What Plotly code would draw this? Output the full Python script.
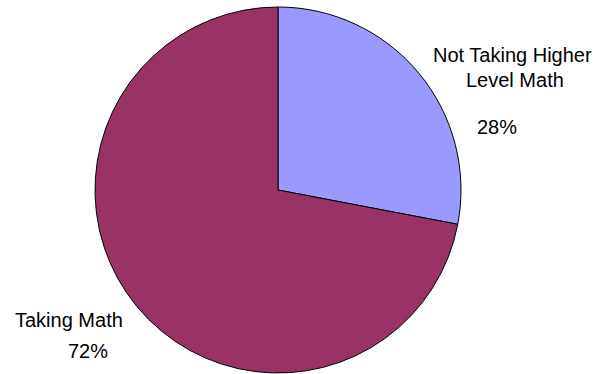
import plotly.graph_objects as go

labels = ["Not Taking Higher Level Math", "Taking Math"]
label_lines = [["Not Taking Higher", "Level Math"], ["Taking Math"]]
values = [28, 72]
colors = ["#9999FF", "#993366"]

W, H = 603, 374
fig = go.Figure(go.Pie(
    labels=labels, values=values, sort=False, direction="clockwise", rotation=0,
    marker=dict(colors=colors, line=dict(color="black", width=1)),
    textinfo="none", hoverinfo="label+percent", showlegend=False,
    domain=dict(x=[95 / W, 461 / W], y=[1 / H, 367 / H]),
))

total = sum(values)
pct = [f"{round(v / total * 100)}%" for v in values]
# label line positions (pixel centers of cap height)
name_pos = [[(512, 55), (515, 80)], [(69, 320)]]
pct_pos = [(497, 127), (88, 351)]
font = dict(family="Liberation Sans, Arial", size=20, color="black")
for i in range(len(labels)):
    for line, (px, py) in zip(label_lines[i], name_pos[i]):
        fig.add_annotation(x=px / W, y=1 - py / H, xref="paper", yref="paper",
                           text=line, showarrow=False, font=font,
                           xanchor="center", yanchor="middle")
    fig.add_annotation(x=pct_pos[i][0] / W, y=1 - pct_pos[i][1] / H, xref="paper", yref="paper",
                       text=pct[i], showarrow=False, font=font,
                       xanchor="center", yanchor="middle")

fig.update_layout(width=W, height=H, margin=dict(l=0, r=0, t=0, b=0),
                  paper_bgcolor="white", plot_bgcolor="white")
fig.write_html("out.html")
